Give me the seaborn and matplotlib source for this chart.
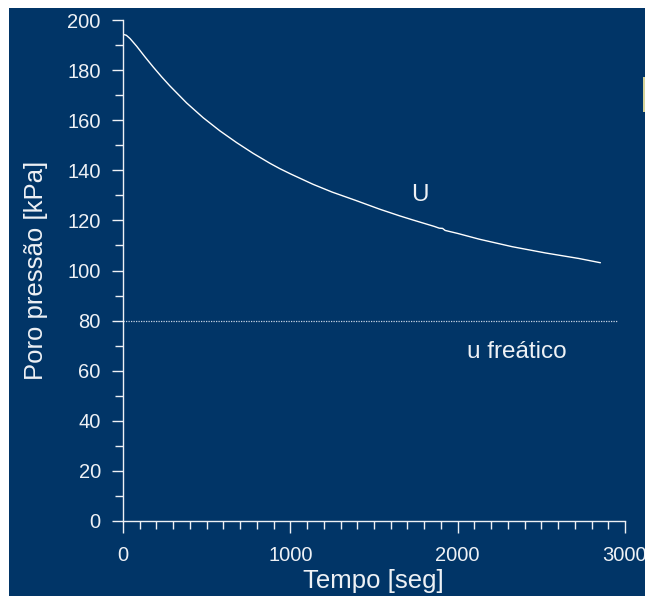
import numpy as np
import pandas as pd
import matplotlib
matplotlib.use("Agg")
import matplotlib.pyplot as plt
from matplotlib.patches import Rectangle
from matplotlib.ticker import MultipleLocator
import seaborn as sns

# --- data ---
tempo = [0, 10, 20, 42, 82, 131, 181, 231, 280, 380, 479, 578, 678, 777, 878,
         936, 1000, 1136, 1250, 1394, 1533, 1654, 1731, 1860, 1890, 1910, 1925,
         2000, 2129, 2326, 2525, 2724, 2853]
poro_u = [194.3, 194.1, 193.9, 192.6, 189.5, 185.3, 181.2, 177.3, 173.7, 166.9,
          161.0, 155.8, 151.1, 146.8, 142.8, 140.7, 138.6, 134.4, 131.3, 127.9,
          124.5, 121.8, 120.2, 117.6, 116.9, 116.8, 116.0, 114.8, 112.5, 109.5,
          107.0, 104.8, 103.1]
freatico_t = [0, 2955]
freatico_u = [80, 80]
x_ticks = [0, 1000, 2000, 3000]
y_ticks = [0, 20, 40, 60, 80, 100, 120, 140, 160, 180, 200]

BG = "#013567"
FG = "#eef1f5"

sns.set_theme(style="ticks")
plt.rcParams["font.family"] = ["Liberation Sans", "DejaVu Sans"]

W, H = 645, 596
fig = plt.figure(figsize=(W / 100, H / 100), dpi=100, facecolor="white")
fig.patches.append(Rectangle((9 / W, 0), 1, (H - 8) / H, transform=fig.transFigure,
                             facecolor=BG, edgecolor="none", zorder=-10))
fig.patches.append(Rectangle((643 / W, (H - 112) / H), 2 / W, 35 / H,
                             transform=fig.transFigure, facecolor="#d6d39a",
                             edgecolor="none", zorder=-10))

ax = fig.add_axes([123 / W, (H - 521) / H, (625 - 123) / W, (521 - 20) / H])
ax.set_facecolor("none")
ax.set_zorder(5)

df_u = pd.DataFrame({"t": tempo, "u": poro_u})
df_f = pd.DataFrame({"t": freatico_t, "u": freatico_u})
sns.lineplot(data=df_u, x="t", y="u", ax=ax, color="white", lw=1.0,
             estimator=None, sort=False)
sns.lineplot(data=df_f, x="t", y="u", ax=ax, color="#c8d4e4", lw=0.9,
             linestyle=(0, (1, 1)), estimator=None, sort=False)

ax.set_xlim(0, 3000)
ax.set_ylim(0, 200)
ax.set_xticks(x_ticks)
ax.set_yticks(y_ticks)
ax.xaxis.set_minor_locator(MultipleLocator(100))
ax.yaxis.set_minor_locator(MultipleLocator(10))

for s in ["top", "right"]:
    ax.spines[s].set_visible(False)
for s in ["left", "bottom"]:
    ax.spines[s].set_color(FG)
    ax.spines[s].set_linewidth(1.0)

ax.tick_params(axis="both", which="major", colors=FG, labelcolor=FG,
               labelsize=14.5, width=1.0)
ax.tick_params(axis="x", which="major", length=8.6, pad=9.5)
ax.tick_params(axis="y", which="major", length=8.0, pad=8)
ax.tick_params(axis="x", which="minor", length=5.8, width=1.0, colors=FG)
ax.tick_params(axis="y", which="minor", length=5.5, width=1.0, colors=FG)

ax.set_xlabel("")
ax.set_ylabel("")
fig.text(373 / W, (H - 581) / H, "Tempo [seg]", color=FG, fontsize=18.5,
         ha="center", va="center")
fig.text(36 / W, (H - 270) / H, "Poro pressão [kPa]", color=FG, fontsize=18.5,
         ha="center", va="center", rotation=90)

ax.text(1772, 130, "U", color=FG, fontsize=17.5, ha="center", va="center")
ax.text(2352, 67.5, "u freático", color=FG, fontsize=17.5, ha="center", va="center")

fig.savefig("out.png", dpi=100, facecolor=fig.get_facecolor())
